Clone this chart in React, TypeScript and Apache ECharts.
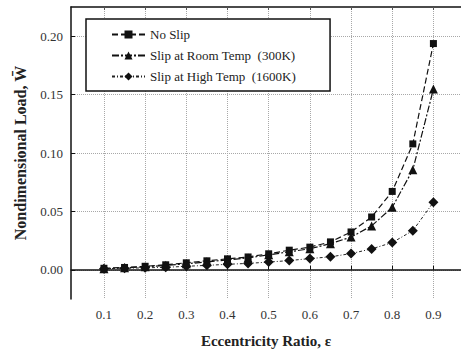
import React, { useEffect, useRef } from "react";
import * as echarts from "echarts";

const xValues = [0.1, 0.15, 0.2, 0.25, 0.3, 0.35, 0.4, 0.45, 0.5, 0.55, 0.6, 0.65, 0.7, 0.75, 0.8, 0.85, 0.9];
const noSlip = [0.0013, 0.002, 0.003, 0.0043, 0.006, 0.0077, 0.0094, 0.011, 0.0137, 0.0168, 0.0194, 0.0239, 0.0324, 0.0452, 0.0671, 0.1078, 0.1937];
const slipRoom = [0.0009, 0.0017, 0.0026, 0.0038, 0.0051, 0.0068, 0.0085, 0.0102, 0.0128, 0.0154, 0.018, 0.0224, 0.028, 0.0376, 0.0535, 0.0856, 0.1547];
const slipHigh = [0.0009, 0.0013, 0.0017, 0.0021, 0.003, 0.0038, 0.0047, 0.0055, 0.0066, 0.0079, 0.0096, 0.0111, 0.0139, 0.0179, 0.0233, 0.0335, 0.0578];
const seriesNames = ["No Slip", "Slip at Room Temp  (300K)", "Slip at High Temp  (1600K)"];
const xTicks = [0.1, 0.2, 0.3, 0.4, 0.5, 0.6, 0.7, 0.8, 0.9];
const yTicks = [0, 0.05, 0.1, 0.15, 0.2];
const xTitle = "Eccentricity Ratio, ε";
const yTitle = "Nondimensional Load, W\u0304";

const FONT = "'Liberation Serif', 'DejaVu Serif', serif";

export default function App() {
  const ref = useRef<HTMLDivElement>(null);
  useEffect(() => {
    if (!ref.current) return;
    const chart = echarts.init(ref.current, null, { renderer: "svg" });
    const pair = (ys: number[]) => xValues.map((x, i) => [x, ys[i]]);
    const gridLine = { show: true, lineStyle: { color: "#a8a8a8", type: "dotted" as const, width: 1 } };
    chart.setOption({
      animation: false,
      backgroundColor: "#ffffff",
      textStyle: { fontFamily: FONT },
      grid: { left: 71, top: 7, right: -3, bottom: 53 },
      legend: {
        orient: "vertical",
        left: 86,
        top: 19,
        backgroundColor: "#fff",
        borderColor: "#111",
        borderWidth: 1.5,
        padding: [9, 34, 8, 25],
        itemWidth: 33,
        itemHeight: 10,
        itemGap: 8,
        textStyle: { fontFamily: FONT, fontSize: 13, color: "#222" },
        data: seriesNames,
      },
      xAxis: [
        {
          type: "value",
          min: 0.02,
          max: 0.967,
          axisLine: { show: true, lineStyle: { color: "#111", width: 1.5 } },
          axisTick: { show: true, inside: true, length: 4, customValues: xTicks, lineStyle: { color: "#111" } },
          axisLabel: {
            customValues: xTicks,
            formatter: (v: number) => v.toFixed(1),
            fontFamily: FONT,
            fontSize: 13,
            color: "#333",
            margin: 9,
          },
          splitLine: gridLine,
          name: xTitle,
          nameLocation: "middle",
          nameGap: 34,
          nameTextStyle: { fontFamily: FONT, fontSize: 15, fontWeight: "bold", color: "#222" },
        },
        {
          type: "value",
          position: "top",
          min: 0.02,
          max: 0.967,
          axisLine: { show: true, lineStyle: { color: "#111", width: 1.5 } },
          axisTick: { show: true, inside: true, length: 3, customValues: xTicks, lineStyle: { color: "#555" } },
          axisLabel: { show: false },
          splitLine: { show: false },
        },
      ],
      yAxis: {
        type: "value",
        min: -0.025,
        max: 0.225,
        axisLine: { show: true, lineStyle: { color: "#111", width: 1.5 } },
        axisTick: { show: true, inside: true, length: 4, customValues: yTicks, lineStyle: { color: "#111" } },
        axisLabel: {
          customValues: yTicks,
          formatter: (v: number) => v.toFixed(2),
          fontFamily: FONT,
          fontSize: 13,
          color: "#333",
          margin: 8,
        },
        splitLine: gridLine,
        name: yTitle,
        nameLocation: "middle",
        nameRotate: 90,
        nameGap: 43,
        nameTextStyle: { fontFamily: FONT, fontSize: 16, fontWeight: "bold", color: "#222" },
      },
      series: [
        {
          name: seriesNames[0],
          type: "line",
          data: pair(noSlip),
          symbol: "rect",
          symbolSize: 7,
          itemStyle: { color: "#111" },
          lineStyle: { color: "#111", width: 1.2, type: [6, 3] },
        },
        {
          name: seriesNames[1],
          type: "line",
          data: pair(slipRoom),
          symbol: "triangle",
          symbolSize: 9,
          itemStyle: { color: "#111" },
          lineStyle: { color: "#111", width: 1.2, type: [7, 2, 2, 2] },
        },
        {
          name: seriesNames[2],
          type: "line",
          data: pair(slipHigh),
          symbol: "diamond",
          symbolSize: 10,
          itemStyle: { color: "#111" },
          lineStyle: { color: "#222", width: 1, type: [3, 2, 1, 2] },
        },
      ],
    });
    return () => chart.dispose();
  }, []);
  return <div ref={ref} style={{ width: 461, height: 353, position: "absolute", left: 0, top: 0 }} />;
}
